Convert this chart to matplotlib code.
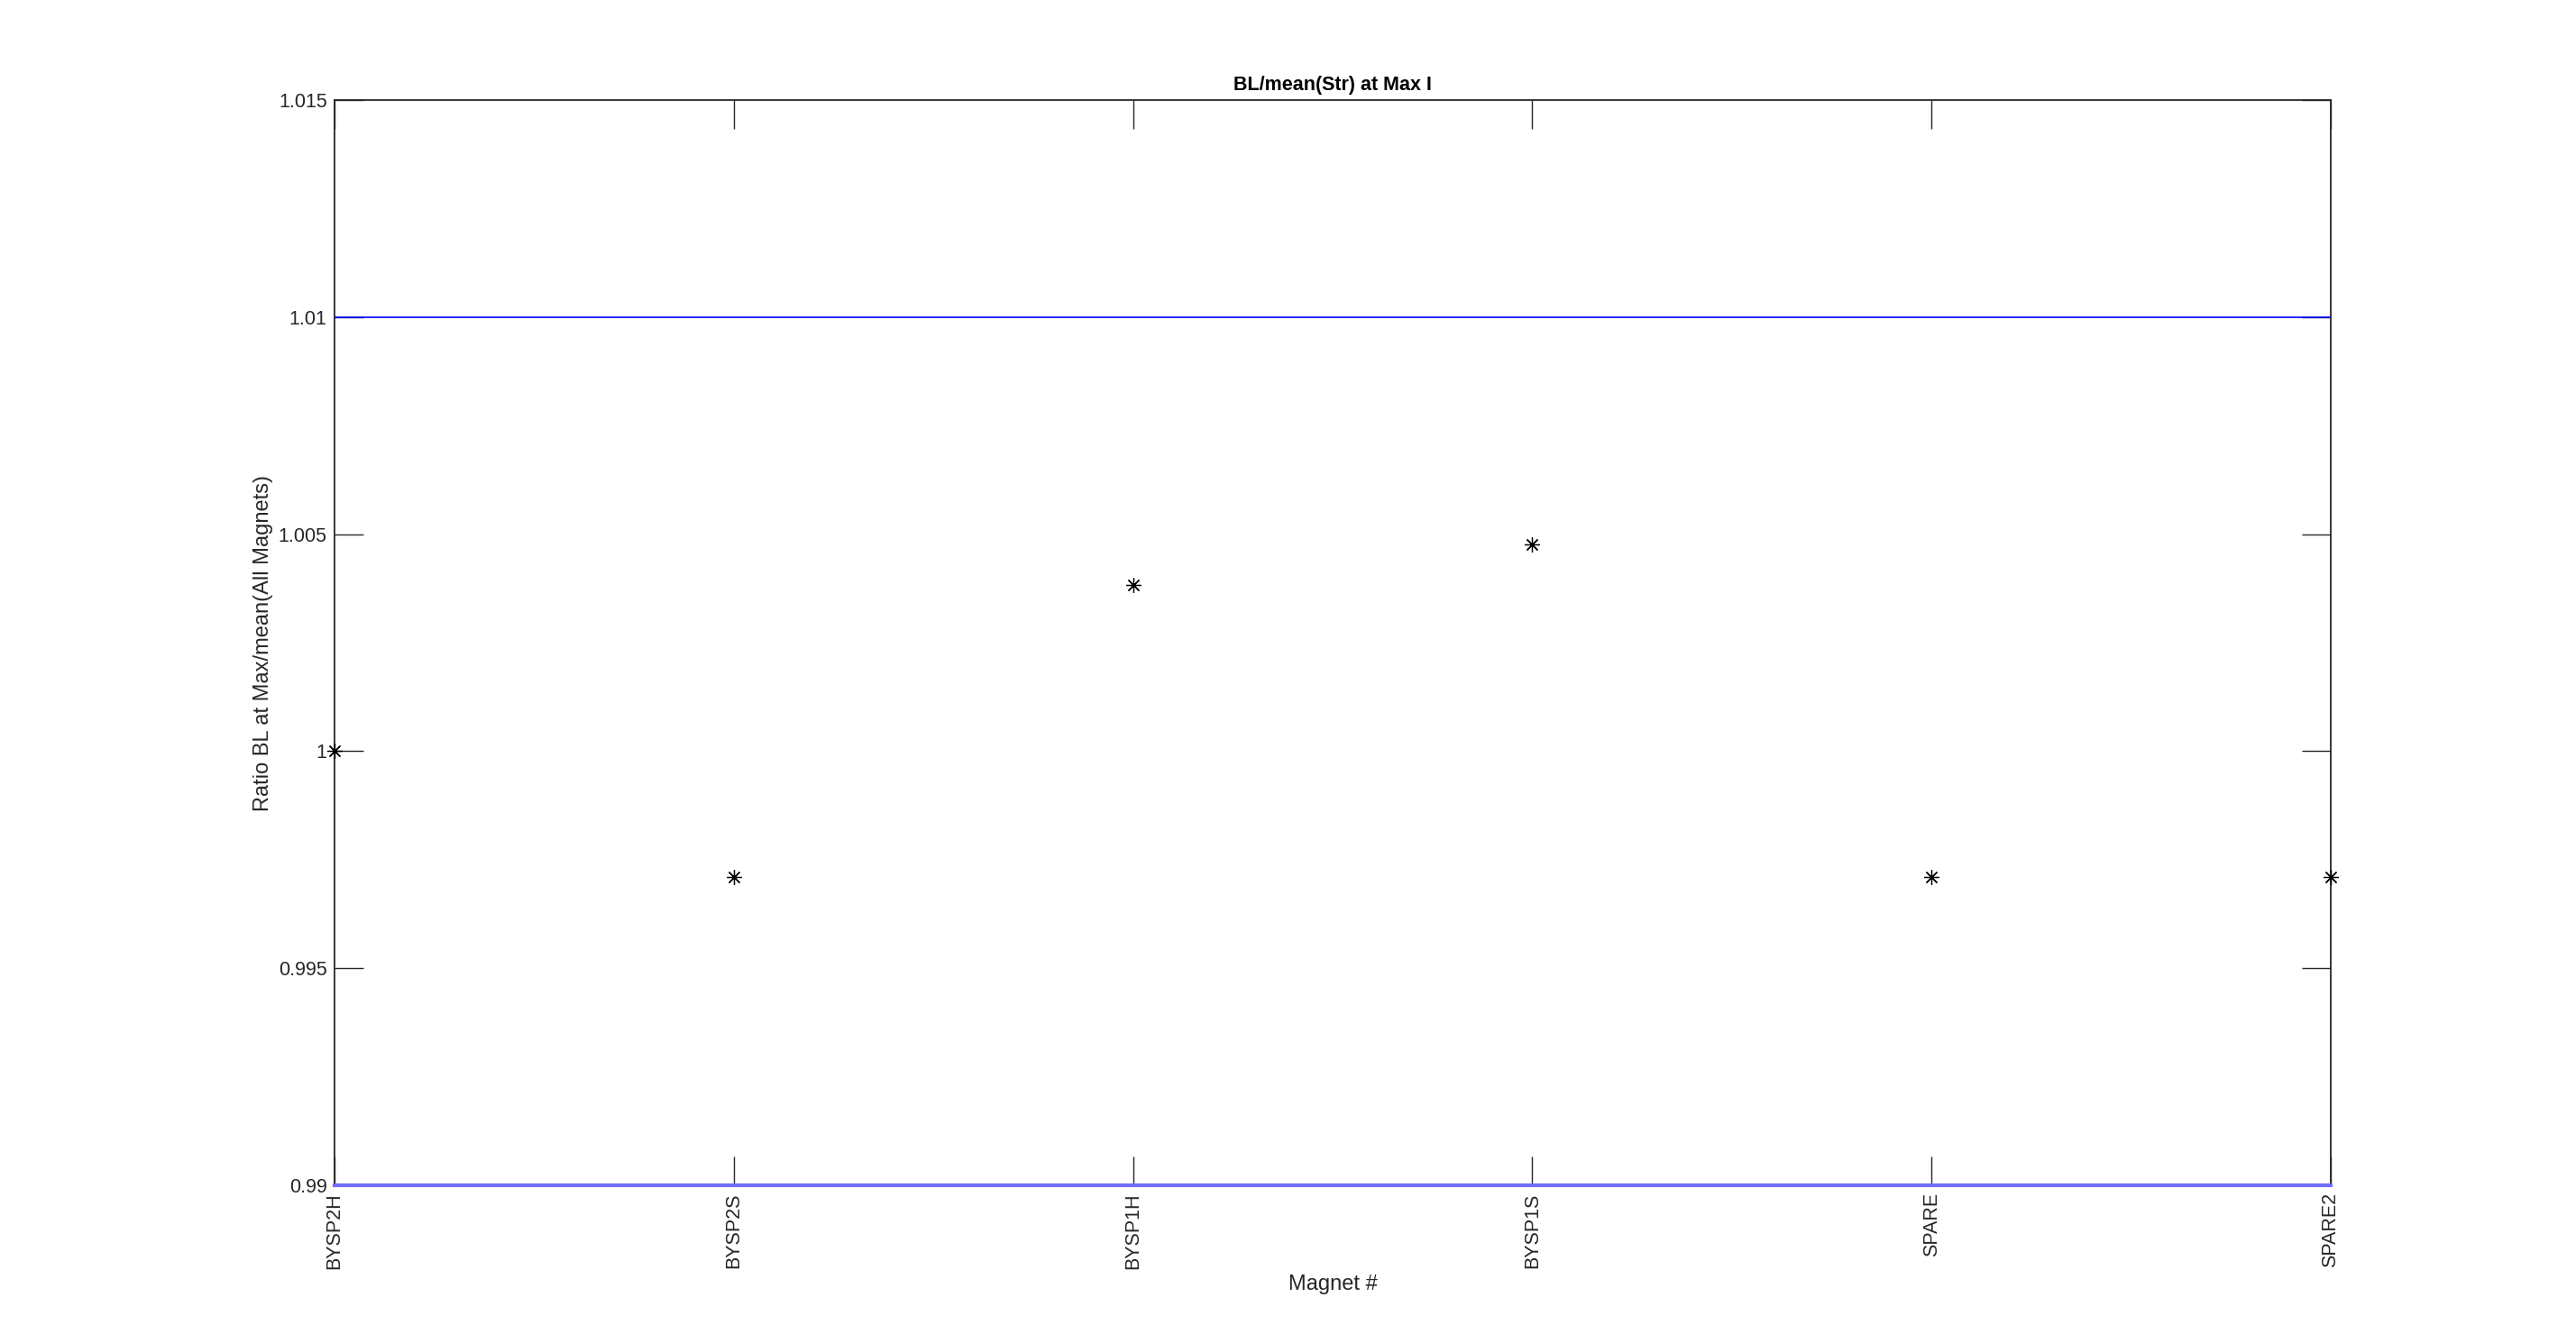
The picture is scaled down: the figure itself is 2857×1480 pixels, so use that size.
import numpy as np
import matplotlib
matplotlib.use("Agg")
import matplotlib.pyplot as plt

plt.rcParams['font.family'] = ['Liberation Sans', 'DejaVu Sans']

magnets = ["BYSP2H", "BYSP2S", "BYSP1H", "BYSP1S", "SPARE", "SPARE2"]
ratio = [1.0000, 0.9971, 1.00383, 1.00476, 0.9971, 0.9971]
upper_limit = 1.01
lower_limit = 0.99

W, H = 2857, 1480
fig = plt.figure(figsize=(W / 100, H / 100), dpi=100)
ax = fig.add_axes([371 / W, 1 - 1315 / H, (2585 - 371) / W, (1315 - 111) / H])

x = np.arange(len(magnets))
# 8-armed asterisk like MATLAB's '*'
ax.plot(x, ratio, linestyle="none", marker=(8, 2, 0), color="black",
        markersize=12, markeredgewidth=0.9, clip_on=False, zorder=5)

ax.axhline(upper_limit, color="blue", linewidth=1.2, zorder=3)
ax.axhline(lower_limit, color="#6f6fff", linewidth=3, zorder=3, clip_on=False)

ax.set_xlim(0, len(magnets) - 1)
ax.set_ylim(0.99, 1.015)
ax.set_xticks(x)
ax.set_xticklabels(magnets, rotation=90)
ax.set_yticks([0.99, 0.995, 1.0, 1.005, 1.01, 1.015])
ax.set_yticklabels(["0.99", "0.995", "1", "1.005", "1.01", "1.015"])

ax.tick_params(direction="in", length=23, width=1.0, top=True, right=True,
               labelsize=15.5, colors="#262626", pad=6)
for s in ax.spines.values():
    s.set_linewidth(1.3)
    s.set_color("#262626")

ax.set_title("BL/mean(Str) at Max I", fontsize=15.5, fontweight="bold", pad=8)
ax.set_xlabel("Magnet #", fontsize=17, color="#262626")
ax.set_ylabel("Ratio BL at Max/mean(All Magnets)", fontsize=17, color="#262626")

fig.savefig("out.png", dpi=100)
